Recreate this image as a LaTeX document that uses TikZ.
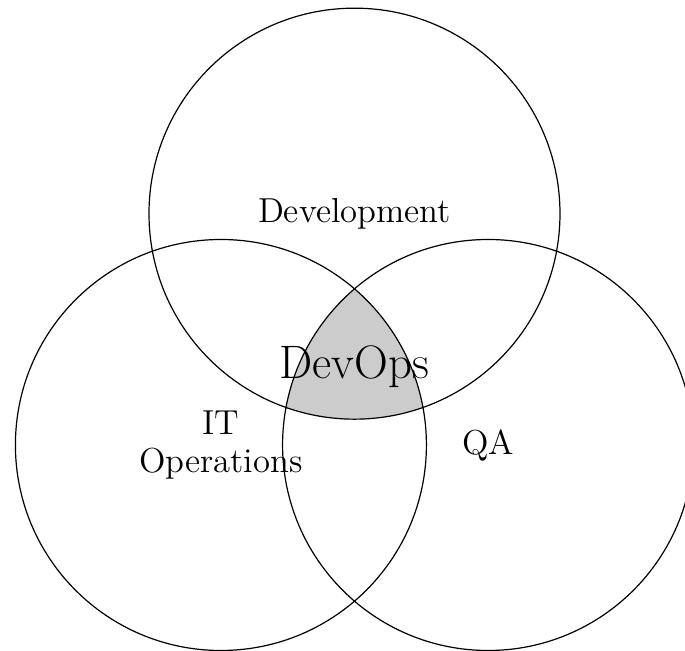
\documentclass[tikz,border=0pt]{standalone}
\usepackage{tikz}
\usepackage{xcolor}
\tikzset{set/.style={draw,circle,line width=0.5pt,minimum size=6cm,inner sep=0pt,font=\Large,align=center},
    core/.style={font=\fontsize{19.5}{23}\selectfont}}

\begin{document}
\begin{tikzpicture}
\useasboundingbox (-5.175,-3.007) rectangle (4.825,6.496);
\begin{scope}
\clip (0,3.377) circle (3);
\clip (-1.95,0) circle (3);
\fill[gray!40] (1.95,0) circle (3);
\end{scope}
\node[set] (dev) at (0,3.377) {Development};
\node[set] (ops) at (-1.95,0) {IT\\[-2pt]Operations};
\node[set] (qa) at (1.95,0) {QA};
\node[core] (devops) at (0,1.15) {DevOps};
\end{tikzpicture}
\end{document}
